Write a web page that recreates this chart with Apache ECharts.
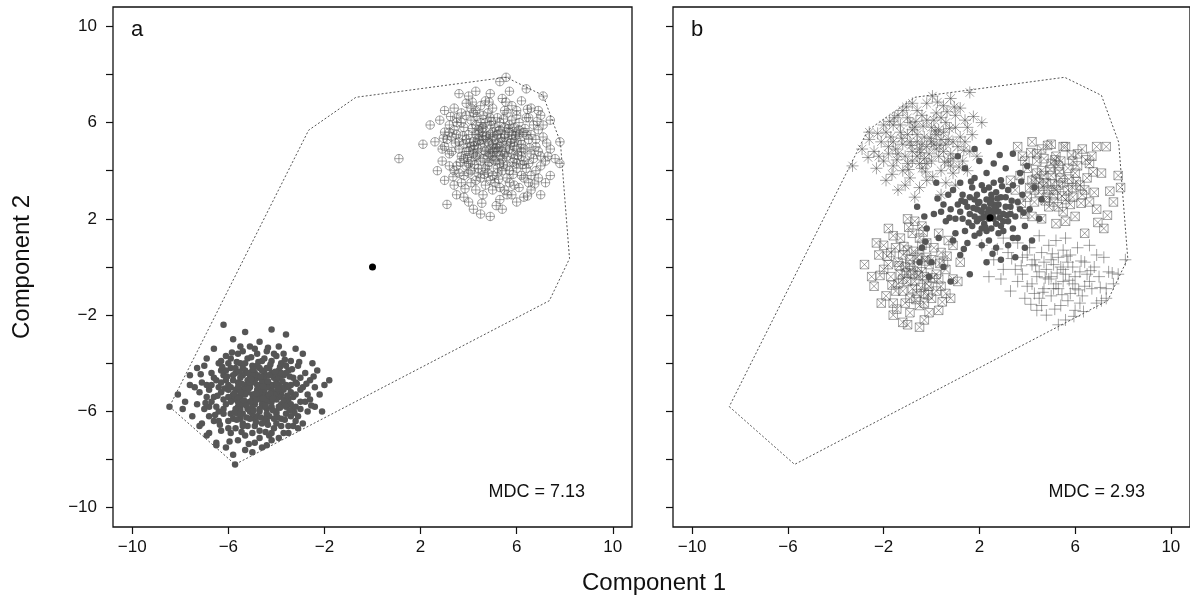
<!DOCTYPE html>
<html><head><meta charset="utf-8">
<script src="https://cdn.jsdelivr.net/npm/echarts@6/dist/echarts.min.js"></script>
<style>html,body{margin:0;padding:0;background:#fff}#c{width:1190px;height:599px}</style>
</head><body><div id="c"></div>
<script>
// ---- tick values ----
const X_TICKS = [-10,-6,-2,2,6,10];
const Y_TICKS = [-10,-8,-6,-4,-2,0,2,4,6,8,10];
const Y_LABELS = [-10,-6,-2,2,6,10];
const AXIS_MIN = -10.8, AXIS_MAX = 10.8;

// ---- convex hull (same in both panels) ----
const HULL = [[-8.45,-5.8],[-5.72,-8.2],[7.36,-1.4],[8.2,0.35],[7.82,5.18],[7.1,7.13],[5.56,7.88],[-0.69,7.05],[-2.66,5.68]];

// ---- panel a ----
const A_FILLED = [
[-6.2,-2.4],[-5.3,-2.7],[-4.2,-2.6],[-3.6,-2.8],[-5.8,-3.0],[-4.7,-3.1],[-3.9,-3.3],[-6.6,-3.4],[-5.1,-3.3],[-4.4,-3.5],[-3.2,-3.4],[-5.6,-3.6],[-6.9,-3.8],[-4.0,-3.7],[-5.2,-3.8],[-3.4,-3.9],[-4.8,-3.6],[-6.1,-3.7],[-2.9,-3.6],
[-7.0,-4.1],[-6.4,-4.0],[-5.9,-4.2],[-5.5,-4.0],[-5.0,-4.1],[-4.6,-3.9],[-4.3,-4.2],[-3.8,-4.0],[-3.5,-4.3],[-3.1,-4.1],[-2.8,-4.4],[-2.3,-4.3],[-6.7,-4.4],[-6.2,-4.5],[-5.7,-4.4],[-5.3,-4.3],[-4.9,-4.5],[-4.5,-4.4],[-4.1,-4.6],[-3.7,-4.5],[-3.3,-4.6],[-7.6,-4.5],[-6.0,-4.0],[-5.1,-4.6],[-4.7,-4.2],[-3.9,-4.3],[-2.6,-4.7],[-1.8,-4.7],
[-7.4,-5.0],[-7.1,-4.8],[-6.8,-5.1],[-6.5,-4.7],[-6.3,-5.2],[-6.0,-4.9],[-5.8,-5.3],[-5.6,-4.8],[-5.4,-5.1],[-5.2,-4.7],[-5.0,-5.3],[-4.8,-4.9],[-4.6,-5.2],[-4.4,-4.8],[-4.2,-5.1],[-4.0,-4.7],[-3.8,-5.3],[-3.6,-4.9],[-3.4,-5.2],[-3.2,-4.8],[-3.0,-5.1],[-2.7,-5.3],[-2.4,-5.0],[-5.9,-5.0],[-5.5,-5.4],[-5.1,-5.0],[-4.7,-5.4],[-4.3,-5.0],[-3.9,-5.4],[-3.5,-5.0],[-6.6,-5.4],[-6.1,-4.7],[-4.9,-4.7],[-4.5,-5.3],[-4.1,-4.9],[-3.7,-5.1],[-5.3,-4.9],[-5.7,-5.1],[-6.9,-4.9],[-4.0,-5.2],[-4.8,-5.1],[-5.0,-4.8],
[-7.3,-5.7],[-7.0,-5.9],[-6.7,-5.6],[-6.4,-6.0],[-6.1,-5.7],[-5.9,-6.1],[-5.6,-5.8],[-5.3,-5.6],[-5.1,-6.0],[-4.9,-5.7],[-4.6,-5.5],[-4.4,-5.9],[-4.2,-5.6],[-4.0,-6.1],[-3.8,-5.7],[-3.5,-5.5],[-3.3,-5.9],[-3.0,-5.6],[-2.7,-6.0],[-2.4,-5.8],[-6.2,-5.5],[-5.4,-6.1],[-4.7,-6.0],[-4.3,-5.5],[-3.6,-6.1],[-5.8,-5.5],[-5.0,-5.5],[-4.5,-5.8],[-3.9,-5.8],[-6.8,-6.2],[-2.1,-6.0],[-7.8,-5.6],[-8.1,-5.3],
[-7.1,-6.5],[-6.6,-6.4],[-6.3,-6.8],[-6.0,-6.4],[-5.7,-6.7],[-5.5,-6.3],[-5.2,-6.6],[-4.9,-6.3],[-4.7,-6.8],[-4.4,-6.4],[-4.1,-6.7],[-3.8,-6.3],[-3.5,-6.6],[-3.2,-6.4],[-2.9,-6.5],[-5.9,-6.9],[-5.0,-6.9],[-4.3,-7.0],[-3.7,-6.9],[-6.8,-6.9],[-5.4,-6.5],[-4.6,-6.5],
[-6.5,-7.3],[-6.1,-7.5],[-5.6,-7.2],[-5.3,-7.6],[-4.9,-7.3],[-4.6,-7.5],[-4.2,-7.2],[-3.9,-7.1],[-3.5,-6.9],[-5.8,-7.8],[-5.0,-7.7],[-4.4,-7.4],[-5.72,-8.2],[-6.9,-7.0],[-3.1,-6.7],[-3.3,-6.6],
[-5.2,-5.2],[-4.6,-5.0],[-4.4,-5.4],[-5.6,-5.6],[-5.0,-5.8],[-4.2,-4.4],[-5.4,-4.5],[-3.6,-5.6],[-6.4,-5.0],[-4.8,-6.2],[-3.3,-5.4],[-5.8,-4.5],[-4.0,-5.5],[-4.9,-4.4],[-5.5,-5.9],[-4.3,-6.2],[-3.9,-4.9],[-6.0,-5.4],[-5.1,-6.3],[-4.5,-4.6],
[-7.6,-4.9],[-7.9,-5.9],[-7.5,-6.2],[-7.3,-4.2],[-8.45,-5.8],[-7.2,-6.6],[-6.5,-7.4],
[-5.5,-4.6],[-5.3,-5.3],[-5.1,-4.4],[-4.9,-5.6],[-4.7,-4.6],[-4.5,-5.1],[-4.3,-4.5],[-4.1,-5.3],[-3.9,-4.6],[-3.7,-5.5],[-5.7,-5.9],[-5.4,-4.2],[-5.2,-5.9],[-5.0,-4.3],[-4.8,-5.5],[-4.6,-4.3],[-4.4,-5.6],[-4.2,-4.9],[-4.0,-6.0],[-3.8,-4.4],[-6.2,-5.9],[-6.0,-5.1],[-5.8,-4.7],[-5.6,-5.4],[-5.4,-5.7],[-5.2,-4.4],[-5.0,-6.1],[-4.8,-4.5],[-4.6,-5.7],[-4.4,-4.2],[-4.2,-5.8],[-4.0,-4.4],[-3.8,-5.0],[-3.6,-4.4],[-3.4,-5.7],[-3.2,-5.3],[-3.0,-4.6],[-2.8,-5.6],[-6.3,-4.3],[-6.5,-5.8],[-6.7,-4.9],[-6.4,-6.4],
[-5.9,-3.8],[-5.4,-3.5],[-4.5,-3.8],[-3.7,-3.6],[-6.3,-3.9],[-2.5,-4.0],[-2.9,-5.0],[-2.2,-5.3],[-2.0,-4.9],[-6.9,-5.4],[-7.2,-5.2],[-6.8,-5.8],[-6.0,-6.7],[-5.3,-7.0],[-4.7,-7.1],[-4.0,-6.5],[-3.4,-6.2],[-5.6,-6.1],[-4.1,-6.3],[-4.9,-6.6],[-5.8,-6.3],[-6.2,-6.1],[-3.0,-5.9],[-3.6,-5.8],[-4.4,-6.1],[-5.1,-5.6],[-4.7,-5.9],[-5.3,-4.0],[-4.8,-4.1],[-4.2,-3.9],[-3.6,-4.1],[-5.7,-4.2],[-6.6,-4.6],[-6.1,-4.3],[-5.4,-6.6],[-4.2,-6.9],[-3.8,-6.6],[-3.1,-6.2],[-2.6,-5.5],[-4.1,-3.6],[-4.9,-3.4],[-5.5,-3.3],[-3.4,-4.9],[-3.2,-5.8],[-5.9,-5.6],[-6.3,-4.8],[-4.5,-6.3],[-5.0,-4.5],[-4.6,-4.8],[-4.3,-5.3],[-5.3,-5.0],[-4.0,-4.9],[-5.6,-5.0],[-4.9,-5.3],[-4.4,-5.0],[-4.7,-5.2],[-5.1,-4.8],[-3.9,-5.1],[-5.5,-5.2],
[-5.15,-5.05],[-4.85,-5.25],[-4.55,-4.95],[-4.25,-5.25],[-3.95,-5.05],[-5.45,-4.85],[-5.75,-5.25],[-5.05,-4.65],[-4.65,-4.55],[-4.35,-4.75],[-4.05,-4.35],[-3.75,-4.75],[-3.45,-4.55],[-5.35,-5.55],[-4.95,-5.95],[-4.45,-5.75],[-4.15,-5.45],[-3.85,-5.85],[-3.55,-5.35],[-5.65,-6.35],[-5.25,-6.25],[-4.85,-6.45],[-4.35,-6.55],[-3.95,-6.25],[-6.15,-5.05],[-6.45,-5.35],[-6.25,-4.15],[-5.85,-3.55],[-5.05,-3.75],[-4.35,-3.35],[-3.65,-3.85],[-3.05,-3.95],[-2.75,-4.85],[-2.55,-5.75],[-3.25,-6.05],[-6.55,-6.15],[-6.95,-5.65],[-7.15,-4.45],[-5.95,-7.25],[-5.15,-7.35],[-4.45,-6.85],[-5.55,-4.35],[-4.75,-3.95],[-3.35,-4.25],[-6.05,-4.55],[-4.15,-5.95],[-3.65,-6.35],[-5.45,-6.85],[-6.35,-6.55],[-2.45,-4.55],[-4.95,-4.25],[-4.55,-5.45],[-5.25,-5.75],[-3.85,-4.15],[-4.25,-4.05],[-5.65,-3.95],[-3.15,-4.85],[-3.45,-5.95],[-4.65,-6.25],[-5.75,-6.05]
];
const A_CPLUS = [
[1.1,4.5],[2.1,5.1],[5.56,7.88],[5.3,7.7],[4.3,7.3],[3.6,7.2],[6.4,7.4],[7.1,7.1],[7.8,5.2],[7.8,4.3],[3.1,2.6],[3.8,2.9],[4.5,2.2],[4.9,2.1],[6.0,2.7],[6.6,3.2],[7.4,3.8],[2.7,4.0],[2.4,5.9],[3.0,6.5],[7.4,6.1],[6.9,6.5],
[3.4,6.6],[3.9,6.8],[4.3,6.5],[4.7,6.9],[5.0,6.6],[5.4,7.0],[5.8,6.7],[6.2,6.9],[6.6,6.6],[4.0,7.1],[4.9,7.2],[5.7,7.3],[6.0,6.5],[3.7,6.4],[4.5,6.7],
[2.8,6.1],[3.2,5.9],[3.5,6.2],[3.8,5.8],[4.1,6.1],[4.4,5.7],[4.6,6.3],[4.9,5.9],[5.2,6.2],[5.5,5.8],[5.8,6.1],[6.1,5.7],[6.4,6.2],[6.7,5.9],[7.0,6.3],[3.4,5.7],[4.2,6.4],[5.0,5.6],[5.6,6.4],[6.3,5.6],[4.7,6.0],[5.3,5.7],[3.9,6.3],[6.9,5.7],[3.0,5.6],
[2.6,5.2],[3.0,5.0],[3.3,5.4],[3.6,4.9],[3.9,5.3],[4.1,5.0],[4.3,5.5],[4.5,5.1],[4.7,5.4],[4.9,4.9],[5.1,5.3],[5.3,5.0],[5.5,5.5],[5.7,4.9],[5.9,5.2],[6.1,5.5],[6.3,4.9],[6.5,5.3],[6.8,5.0],[7.1,5.4],[7.4,4.9],[3.5,5.5],[4.0,4.8],[4.6,5.6],[5.0,5.1],[5.4,4.8],[5.8,5.5],[6.2,5.1],[4.4,4.9],[4.8,5.2],[5.2,5.5],[5.6,5.2],[6.0,4.9],[6.6,5.5],[3.8,5.1],[4.2,5.2],[5.1,4.9],[5.9,5.0],
[2.9,4.4],[3.2,4.7],[3.5,4.2],[3.7,4.6],[4.0,4.3],[4.2,4.7],[4.4,4.1],[4.6,4.5],[4.8,4.2],[5.0,4.6],[5.2,4.1],[5.4,4.5],[5.6,4.2],[5.8,4.7],[6.0,4.3],[6.2,4.6],[6.4,4.1],[6.7,4.5],[7.0,4.2],[7.3,4.6],[3.4,4.0],[3.9,4.8],[4.5,4.4],[5.1,4.4],[5.7,4.0],[6.3,4.4],[4.9,4.7],[5.5,4.7],[4.1,4.0],[6.8,4.0],[7.6,4.5],
[3.0,3.6],[3.4,3.4],[3.8,3.8],[4.1,3.5],[4.4,3.9],[4.7,3.4],[5.0,3.8],[5.3,3.3],[5.6,3.7],[5.9,3.4],[6.2,3.8],[6.5,3.5],[6.9,3.7],[4.3,3.2],[5.5,3.2],[3.6,3.9],[4.9,3.6],[6.1,3.3],[7.2,3.5],[5.2,3.9],
[3.5,3.0],[4.0,2.7],[4.6,3.0],[5.3,2.8],[5.8,3.0],[4.2,2.4],[5.4,2.4],[6.3,2.9],[7.0,3.0],
[4.6,5.3],[4.8,4.6],[5.0,5.4],[5.2,4.8],[5.4,5.2],[5.6,4.6],[5.8,5.3],[4.4,5.5],[4.2,4.9],[4.0,5.5],[3.8,4.5],[3.6,5.2],[6.0,5.6],[6.2,4.8],[6.4,5.5],[6.6,4.7],[5.1,5.8],[4.9,6.2],[5.3,6.0],[4.5,6.0],[4.3,5.9],[5.7,5.9],[6.1,6.0],[3.7,6.0],[4.1,4.4],[4.7,4.1],[5.3,4.3],[5.9,4.5],[6.5,4.3],[3.3,4.8],[3.1,5.3],[3.9,4.2],[4.5,3.7],[5.1,3.5],[5.7,3.5],[6.3,3.7],[4.0,3.9],[4.8,3.9],[5.4,4.0],[6.0,4.1],[4.3,4.6],[4.9,5.5],[5.5,5.4],[5.0,4.8],[4.7,4.8],[5.3,4.6],[4.6,5.8],[5.9,5.8],[6.8,5.3],[6.9,4.8],[7.2,4.4],[7.1,5.9],[6.5,6.2],[6.0,6.3],[5.5,6.5],[4.8,6.4],[4.1,6.6],[3.5,6.0],[3.2,5.6],[2.9,4.9],[3.2,4.2],[3.7,3.5],[4.3,3.6],[5.0,3.2],[5.6,3.0],[6.6,3.8],[7.0,4.6],[4.4,5.3],[5.7,5.6],[5.2,5.1],
[4.85,5.15],[5.15,4.95],[4.65,4.85],[5.35,5.35],[4.45,5.25],[5.55,4.95],[4.25,5.05],[5.75,5.15],[4.05,5.15],[5.95,5.45],[4.75,5.45],[5.25,5.65],[4.55,5.75],[5.65,5.75],[4.35,4.65],[5.05,4.45],[5.45,4.25],[4.85,4.35],[4.15,5.75],[5.85,4.35],[6.15,5.25],[6.35,5.75],[3.75,5.45],[3.45,5.15],[4.95,6.05],[5.45,6.15],[4.35,6.25],[6.05,4.65],[6.55,4.95],[3.95,4.55],[4.65,3.85],[5.25,3.65],[5.85,3.85],[4.25,4.25],[6.25,4.25],[3.65,4.35],[5.55,6.85],[4.85,6.85],[4.15,6.85],[6.45,6.55],[6.85,6.05],[7.25,5.15],[3.25,6.25],[2.95,5.35],[3.35,3.75],[6.75,3.45],[5.15,2.55],[4.55,2.65],[3.85,3.25],[6.45,2.95]
];
const A_CENTROID = [[0,0]];

// ---- panel b ----
const B_ASTER = [
[-3.3,4.2],[-2.6,5.6],[-1.55,6.2],[0.04,7.1],[1.6,7.25],[-0.8,6.8],[0.8,7.0],[-1.2,6.5],[1.2,6.6],[-2.0,5.9],[-2.4,4.8],[-2.0,4.4],[-1.9,3.6],[-1.4,3.2],[-0.7,2.9],[0.4,3.0],[1.0,3.4],[1.5,4.0],[1.9,4.6],[1.7,5.5],[2.1,6.0],[1.4,6.1],
[-1.7,5.4],[-1.5,4.9],[-1.3,5.6],[-1.1,4.6],[-0.9,5.2],[-0.7,5.8],[-0.5,4.9],[-0.3,5.4],[-0.1,4.7],[0.1,5.1],[0.3,5.7],[0.5,4.8],[0.7,5.3],[0.9,4.5],[1.1,5.0],[-1.6,4.2],[-1.2,4.0],[-0.8,4.4],[-0.4,4.1],[0.0,4.4],[0.4,4.0],[0.8,4.2],[-1.0,6.2],[-0.6,6.5],[-0.2,6.1],[0.2,6.4],[0.6,6.0],[-1.4,6.3],[1.0,5.8],[-0.9,3.7],[-0.2,3.6],[0.6,3.5],[-1.8,5.0],[-2.1,5.2],[1.3,4.4],[1.4,5.2],[-0.4,5.1],[0.2,4.9],[-0.8,4.8],[-1.2,5.1],[0.4,5.3],[-0.6,5.5],[0.0,5.8],[-1.6,5.9],[-1.8,4.7],[0.8,4.7],[1.2,5.4],[-0.3,4.5],[-0.2,6.8],[0.5,6.7],[-0.5,3.3],[-2.6,5.3],[-2.9,4.9],
[-1.0,5.5],[-0.6,5.2],[-0.2,5.0],[0.2,5.5],[0.6,5.1],[-1.4,4.7],[-1.0,4.3],[-0.6,4.6],[-0.2,4.3],[0.3,4.6],[0.7,4.4],[-1.3,5.9],[-0.9,6.0],[-0.4,6.3],[0.1,6.1],[0.5,5.6],[0.9,5.2],[-1.6,5.2],[-2.2,4.6],[-1.9,5.6],[-0.5,4.3],[0.0,5.2],[-0.8,5.7],[0.4,6.2],[1.0,6.3],[1.5,5.8],[1.6,4.8],[-1.1,3.4],[-2.3,4.1],[0.9,3.9],
[-0.85,5.05],[-0.45,4.75],[-0.05,5.35],[0.35,5.05],[-1.25,5.35],[-0.65,6.05],[0.15,5.65],[-1.45,4.45],[0.55,4.35],[-0.25,3.95],[0.75,5.75],[-1.75,6.05],[-1.05,6.65],[0.25,6.85],[0.95,6.65],[1.35,4.85],[1.75,6.25],[-2.25,5.55],[-2.65,4.55],[-1.65,3.85],[-0.35,5.85],[0.65,6.45],[1.15,4.15],[-0.95,4.05],[0.05,3.75]
];
const B_DOTS = [
[1.5,2.5],[1.8,2.1],[2.0,2.7],[2.2,1.8],[2.4,2.4],[2.6,2.0],[2.8,2.6],[3.0,2.2],[3.2,1.9],[1.7,1.7],[2.1,2.3],[2.5,2.8],[2.9,1.7],[3.3,2.5],[1.3,2.0],[1.9,3.0],[2.3,1.5],[2.7,3.1],[3.1,2.9],[3.5,2.1],[1.6,2.9],[2.0,1.4],[2.4,3.3],[2.8,1.4],[3.6,2.7],[1.1,2.6],[1.4,1.5],[2.2,2.1],[2.6,2.3],[3.0,1.5],
[0.9,3.2],[1.2,3.5],[1.8,3.7],[2.3,3.9],[2.9,3.6],[3.4,3.4],[3.8,3.0],[4.1,2.4],[3.9,1.7],[3.6,1.2],[3.2,0.9],[2.7,0.8],[2.1,0.9],[1.5,1.0],[1.0,1.4],[0.6,1.9],[0.5,2.6],[0.7,3.0],[1.4,4.1],[2.0,4.4],[2.6,4.3],[3.1,4.1],[3.7,3.9],[4.3,3.3],[4.5,2.0],[4.2,1.1],[3.5,0.4],[2.9,0.3],[1.2,0.5],[0.3,1.2],[0.1,2.2],[-0.2,1.6],[-0.4,0.8],[0.0,0.2],[0.5,0.0],[1.8,4.9],[2.4,5.2],[1.1,4.6],[3.4,4.7],[0.2,3.5],[-0.6,2.5],[4.0,4.2],[4.6,2.8],[3.9,0.8],[1.6,-0.3],[0.8,-0.6],[2.3,0.2],[-0.1,-0.4],[-0.5,0.2],[1.9,1.9],[2.5,1.6],[1.2,2.3],[3.4,1.6],[0.8,2.4],[2.1,3.4],[2.7,2.5],
[2.2,2.5],[2.4,2.0],[2.6,2.6],[1.9,2.4],[2.0,2.0],[2.8,2.3],[2.3,2.8],[2.7,1.8],[1.6,2.2],[3.1,2.5],[2.1,1.6],[2.5,3.0],[1.8,2.8],[3.0,1.9],[2.9,2.9],[1.4,2.7],[3.3,2.2],[2.2,3.2],[1.7,3.3],[2.6,3.5],[3.2,3.2],[3.7,2.4],[1.0,2.0],[1.3,3.0],[0.4,2.3],[3.4,1.2],[2.4,1.1],[1.8,1.3],[0.9,1.1],[-0.3,2.1],
[2.35,2.25],[2.55,2.15],[2.15,2.05],[2.65,2.45],[1.95,2.65],[2.45,2.65],[2.85,2.05],[2.05,2.35],[1.75,2.45],[2.75,2.85],[3.15,2.15],[2.25,1.65],[1.55,1.85],[3.35,2.75],[1.25,2.75],[2.95,3.35],[1.65,3.55],[3.85,2.25],[0.75,2.05],[0.25,2.85],[-0.25,1.05],[1.35,0.75],[2.55,0.55],[3.75,3.55],[2.85,4.65]
];
const B_SQX_UR = [
[3.6,5.0],[4.2,5.2],[5.0,5.1],[5.6,5.0],[6.3,4.9],[6.9,5.0],[7.3,5.0],[7.8,3.8],[7.9,3.3],[7.6,2.7],[6.9,2.4],[7.2,1.6],[6.4,1.4],[3.8,4.6],[4.4,4.7],[5.2,4.6],[5.9,4.4],[6.6,4.3],[4.0,4.1],[4.6,4.0],[5.3,4.2],[6.0,3.9],[6.5,3.7],[4.2,3.6],[4.8,3.5],[5.4,3.7],[5.9,3.3],[6.3,3.0],[4.5,3.1],[5.1,3.0],[5.6,2.8],[4.3,2.7],[4.9,2.5],[5.5,2.3],[6.0,2.1],[4.6,2.0],[5.2,1.8],[3.9,2.2],[3.5,3.2],[3.7,3.8],[4.1,3.3],[4.7,3.8],[5.0,4.3],[5.7,4.1],[6.2,3.4],[5.3,3.4],[4.4,4.4],[5.8,2.6],[6.8,3.1],[7.1,3.9],[6.7,4.6],[5.5,5.0],[4.9,3.2],[5.1,2.7],[4.0,2.9],[3.3,3.6],[3.2,2.3],
[4.5,3.5],[5.0,3.8],[5.5,3.5],[4.7,4.5],[5.4,4.4],[6.1,4.2],[4.3,3.2],[5.7,3.2],[6.4,3.2],[4.8,2.9],[5.3,2.5],[5.9,2.9],[6.1,4.7],[4.6,4.9],[3.9,4.4],[6.6,2.7],[4.2,2.1],[5.6,1.9],[4.4,3.9],[5.2,3.2],
[5.05,3.45],[5.35,3.95],[4.65,3.35],[5.75,3.65],[4.95,4.05],[5.45,2.95],[6.05,3.55],[4.35,3.65],[5.15,4.45],[5.85,4.65],[4.75,2.75],[6.25,2.65],[6.75,3.95],[3.75,2.65],[4.85,5.05],[6.45,4.45],[7.45,3.15],[7.35,2.15],[6.95,1.85],[4.15,4.75]
];
const B_PLUS = [
[2.1,0.9],[2.6,0.3],[2.9,-0.5],[3.2,0.6],[3.5,-0.1],[3.8,0.4],[4.0,-0.8],[4.2,0.1],[4.4,-0.4],[4.6,0.6],[4.8,-0.1],[5.0,0.3],[5.2,-0.7],[5.4,0.0],[5.6,-0.3],[5.8,0.5],[6.0,-0.9],[6.2,-0.2],[6.4,0.2],[6.6,-0.6],[6.8,0.0],[7.0,-0.4],[7.3,-0.9],[7.3,-1.3],[7.8,-0.3],[8.1,0.3],[7.1,-1.4],[6.9,-1.5],[5.6,-2.2],[5.3,-2.4],[4.6,-1.6],[3.9,-1.3],[3.3,-1.0],[4.3,-1.1],[5.0,-1.2],[5.7,-1.4],[6.3,-1.2],[4.7,-0.9],[5.3,-0.9],[5.9,-0.7],[4.1,0.8],[4.9,0.9],[5.5,0.7],[6.1,0.8],[3.6,1.0],[3.0,1.2],[4.5,1.3],[5.2,1.1],[6.6,0.9],[7.2,0.4],[4.8,-2.0],[6.0,-1.8],[3.6,-0.6],[4.9,-0.5],[5.5,-0.6],[6.5,-0.3],[5.1,0.1],[4.3,0.3],[5.7,0.2],[7.6,-0.7],[3.0,-0.1],[2.4,-0.4],[4.4,-1.8],
[4.5,-0.2],[5.0,-0.4],[5.5,-0.1],[6.0,-0.4],[4.7,0.2],[5.3,0.4],[5.9,0.0],[6.4,-0.8],[4.2,-0.7],[5.1,-0.9],[5.8,-1.1],[6.7,-0.9],[4.5,-1.3],[5.4,-1.6],[6.2,-1.5],[3.8,-0.3],[4.0,0.5],[6.9,0.5],[7.4,-0.2],[5.6,1.2],
[4.75,-0.45],[5.25,-0.25],[5.75,-0.55],[4.35,0.05],[5.05,0.55],[5.65,0.45],[6.25,0.25],[4.65,-1.05],[5.45,-1.15],[6.15,-0.95],[3.75,0.05],[6.65,-0.15],[7.05,-0.85],[4.15,-1.55],[5.15,-1.75],[3.35,0.35],[2.75,0.75],[6.35,-1.85],[5.95,-2.05],[7.55,-0.25]
];
const B_SQX_LL = [
[-2.8,0.1],[-2.3,1.0],[-1.8,1.6],[-1.0,2.0],[-0.4,1.7],[0.3,1.4],[0.9,0.9],[1.2,0.2],[1.1,-0.6],[0.8,-1.3],[0.3,-1.8],[-0.3,-2.2],[-1.0,-2.4],[-1.6,-2.0],[-2.1,-1.5],[-2.4,-0.8],[-2.0,-0.1],[-1.7,0.6],[-1.3,1.2],[-0.8,1.4],[-0.2,1.0],[0.4,0.6],[0.6,-0.1],[0.4,-0.8],[0.0,-1.3],[-0.5,-1.6],[-1.1,-1.5],[-1.5,-1.0],[-1.7,-0.4],[-1.4,0.2],[-1.0,0.7],[-0.5,0.5],[0.0,0.3],[0.2,-0.3],[-0.1,-0.8],[-0.6,-1.1],[-1.0,-0.6],[-1.1,0.0],[-0.6,0.0],[-0.3,-0.4],[-0.8,-0.3],[-1.3,-0.3],[-0.4,0.9],[-1.6,1.3],[-2.2,0.5],[0.7,1.1],[-0.9,-1.9],[-0.1,-1.9],[-1.9,-1.2],[-2.5,-0.4],[0.9,-0.5],[-0.7,1.9],[-1.2,-2.3],[-0.5,-2.5],[0.5,0.2],[-0.2,0.4],[-1.5,0.8],[-0.9,0.3],[-1.2,-1.0],[-0.3,-1.1],
[-0.7,-0.6],[-0.4,-0.2],[-0.9,0.1],[-0.2,-0.7],[-1.2,-0.5],[-0.6,0.4],[-0.1,0.1],[-1.4,-0.7],[-0.8,-0.9],[-0.3,-1.5],[0.3,-0.5],[-1.8,0.1],[-1.2,0.5],[-0.5,1.2],[0.1,0.8],[0.6,-1.1],[-0.9,-1.3],[-1.6,-1.5],[-2.0,0.9],[0.2,-1.0],
[-0.55,-0.35],[-0.85,-0.15],[-0.25,0.25],[-1.05,-0.25],[-0.45,-0.85],[-0.75,0.65],[0.05,-0.45],[-1.35,0.05],[-0.15,-1.15],[-1.15,0.85],[0.35,0.15],[-0.65,-1.35],[-1.65,-0.75],[-0.35,1.45],[0.65,0.45],[-1.85,0.45],[-2.15,-0.35],[-0.95,1.65],[0.45,-1.45],[-1.45,-1.75]
];
const B_CENTROID = [[2.45,2.05]];

const PANEL_TAGS = ['a','b'];
const MDC_TEXT = ['MDC = 7.13','MDC = 2.93'];
const X_TITLE = 'Component 1';
const Y_TITLE = 'Component 2';

// ---- styling ----
const FONT = "'Liberation Sans', Arial, Helvetica, sans-serif";
const SYM_CPLUS = 'path://M0,-10A10,10,0,1,1,0,10A10,10,0,1,1,0,-10ZM0,-10L0,10M-10,0L10,0';
const SYM_ASTER = 'path://M0,-10L0,10M-10,0L10,0M-7,-7L7,7M-7,7L7,-7';
const SYM_PLUS = 'path://M0,-10L0,10M-10,0L10,0';
const SYM_SQX = 'path://M-10,-10L10,-10L10,10L-10,10ZM-10,-10L10,10M-10,10L10,-10';
const OUTLINE = 'rgba(70,70,70,0.62)';
const FILL = '#555555';
const fmt = v => (v < 0 ? '\u2212' + Math.abs(v) : String(v));

const GRID_LEFT = [113, 673];
const grids = GRID_LEFT.map(l => ({left:l, top:7, width:519, height:520, show:true, borderColor:'#111', borderWidth:1.3, backgroundColor:'transparent'}));
const xAxes = [0,1].map(i => ({
  type:'value', gridIndex:i, min:AXIS_MIN, max:AXIS_MAX,
  splitLine:{show:false}, axisLine:{show:false, onZero:false},
  axisTick:{show:true, length:7, customValues:X_TICKS, lineStyle:{color:'#111', width:1.2}},
  axisLabel:{customValues:X_TICKS, formatter:fmt, fontSize:17, color:'#111', margin:12, fontFamily:FONT}
}));
const yAxes = [0,1].map(i => ({
  type:'value', gridIndex:i, min:AXIS_MIN, max:AXIS_MAX,
  splitLine:{show:false}, axisLine:{show:false, onZero:false},
  axisTick:{show:true, length:7, customValues:Y_TICKS, lineStyle:{color:'#111', width:1.2}},
  axisLabel:{show:i===0, customValues:Y_LABELS, formatter:fmt, fontSize:17, color:'#111', margin:16, fontFamily:FONT}
}));

function hull(i){ return {type:'line', xAxisIndex:i, yAxisIndex:i, data:HULL.concat([HULL[0]]), symbol:'none', silent:true, z:1,
  lineStyle:{type:[2,2], color:'#555', width:1}}; }
function outlined(i, data, sym, size){ return {type:'scatter', xAxisIndex:i, yAxisIndex:i, data, symbol:sym, symbolSize:size, silent:true, z:2,
  itemStyle:{color:'transparent', borderColor:OUTLINE, borderWidth:1}}; }
function filled(i, data, size, color){ return {type:'scatter', xAxisIndex:i, yAxisIndex:i, data, symbol:'circle', symbolSize:size, silent:true, z:3,
  itemStyle:{color:color, opacity:1}}; }

const series = [
  hull(0), hull(1),
  outlined(0, A_CPLUS, SYM_CPLUS, 8.5),
  filled(0, A_FILLED, 6.5, FILL),
  filled(0, A_CENTROID, 7, '#000'),
  outlined(1, B_ASTER, SYM_ASTER, 12),
  outlined(1, B_SQX_UR, SYM_SQX, 8.5),
  outlined(1, B_SQX_LL, SYM_SQX, 8.5),
  outlined(1, B_PLUS, SYM_PLUS, 12),
  filled(1, B_DOTS, 6.5, FILL),
  filled(1, B_CENTROID, 7, '#000')
];

const txt = (x,y,text,size,align,rot) => ({type:'text', x, y, rotation:rot||0, silent:true, z:10,
  style:{text, fontSize:size, fontFamily:FONT, fill:'#111', align:align, verticalAlign:'middle'}});
const graphic = [
  txt(131, 30, PANEL_TAGS[0], 22, 'left'),
  txt(691, 30, PANEL_TAGS[1], 22, 'left'),
  txt(585, 492, MDC_TEXT[0], 18, 'right'),
  txt(1145, 492, MDC_TEXT[1], 18, 'right'),
  txt(654, 583, X_TITLE, 24, 'center'),
  txt(22, 267, Y_TITLE, 24, 'center', Math.PI/2)
];

const chart = echarts.init(document.getElementById('c'), null, {renderer:'canvas'});
chart.setOption({animation:false, backgroundColor:'#fff', grid:grids, xAxis:xAxes, yAxis:yAxes, series, graphic});
</script></body></html>
